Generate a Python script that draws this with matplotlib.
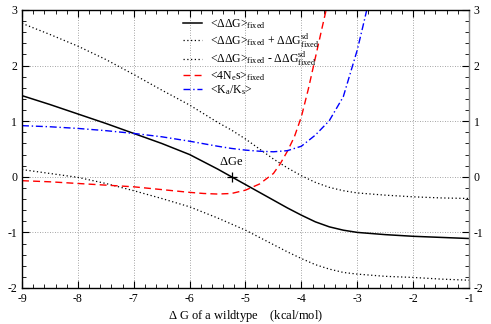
import numpy as np
import matplotlib
matplotlib.use("Agg")
import matplotlib.pyplot as plt
from matplotlib.ticker import MultipleLocator

plt.rcParams['font.family'] = ['Liberation Serif', 'DejaVu Serif']
plt.rcParams['mathtext.fontset'] = 'custom'
plt.rcParams['mathtext.rm'] = 'Liberation Serif'
plt.rcParams['mathtext.it'] = 'Liberation Serif:italic'
plt.rcParams['axes.unicode_minus'] = False

# <ddG>_fixed
x_mean = [-9, -8.5, -8, -7.5, -7, -6.5, -6, -5.5, -5.25, -5, -4.75, -4.5, -4.25, -4,
          -3.75, -3.5, -3.25, -3, -2.5, -2, -1.5, -1]
y_mean = [1.46, 1.30, 1.13, 0.96, 0.78, 0.60, 0.40, 0.14, 0.0, -0.14, -0.28, -0.42, -0.56, -0.69,
          -0.81, -0.90, -0.96, -1.0, -1.04, -1.07, -1.09, -1.11]

# <ddG>_fixed + sd
x_plus = [-9, -8.5, -8, -7.5, -7, -6.5, -6, -5.5, -5.25, -5, -4.75, -4.5, -4.25, -4,
          -3.75, -3.5, -3.25, -3, -2.5, -2, -1.5, -1]
y_plus = [2.76, 2.56, 2.35, 2.11, 1.84, 1.56, 1.29, 0.98, 0.84, 0.68, 0.50, 0.32, 0.16, 0.02,
          -0.10, -0.19, -0.25, -0.29, -0.33, -0.36, -0.38, -0.39]

# <ddG>_fixed - sd
x_minus = [-9, -8.5, -8, -7.5, -7, -6.5, -6, -5.5, -5, -4.75, -4.5, -4.25, -4,
           -3.75, -3.5, -3.25, -3, -2.5, -2, -1.5, -1]
y_minus = [0.13, 0.06, -0.01, -0.12, -0.25, -0.39, -0.54, -0.74, -0.96, -1.09, -1.22, -1.35, -1.47,
           -1.58, -1.66, -1.72, -1.75, -1.79, -1.81, -1.84, -1.86]

# <4Ne s>_fixed
x_ns = [-9, -8.5, -8, -7.5, -7, -6.5, -6, -5.75, -5.5, -5.25, -5, -4.75, -4.5, -4.375,
        -4.25, -4.125, -4.0, -3.875, -3.75, -3.625, -3.5]
y_ns = [-0.07, -0.09, -0.12, -0.15, -0.18, -0.23, -0.28, -0.30, -0.31, -0.30, -0.24, -0.13, 0.06, 0.24,
        0.46, 0.72, 1.08, 1.58, 2.14, 2.70, 3.25]

# <Ka/Ks>
x_kaks = [-9, -8.5, -8, -7.5, -7, -6.5, -6, -5.5, -5.25, -5, -4.75, -4.5, -4.25, -4,
          -3.75, -3.5, -3.25, -3.0, -2.9, -2.83, -2.75]
y_kaks = [0.92, 0.90, 0.87, 0.83, 0.78, 0.72, 0.64, 0.55, 0.51, 0.48, 0.46, 0.45, 0.47, 0.55,
          0.75, 1.01, 1.44, 2.28, 2.70, 3.0, 3.35]

dGe_x, dGe_y = -5.25, 0.0

fig = plt.figure(figsize=(4.91, 3.24), dpi=100)
ax = fig.add_axes([22/491, 1-288/324, (469-22)/491, (288-10)/324])

ax.plot(x_mean, y_mean, color='black', lw=1.1, label=r'<$\Delta\Delta$G>$_{\rm fixed}$')
ax.plot(x_plus, y_plus, color='black', lw=0.9, ls=(0, (1, 2)),
        label=r'<$\Delta\Delta$G>$_{\rm fixed}$ + $\Delta\Delta$G$_{\rm fixed}^{\rm sd}$')
ax.plot(x_minus, y_minus, color='black', lw=0.9, ls=(0, (1, 2)),
        label=r'<$\Delta\Delta$G>$_{\rm fixed}$ - $\Delta\Delta$G$_{\rm fixed}^{\rm sd}$')
ax.plot(x_ns, y_ns, color='red', lw=1.0, ls=(0, (5, 3)), label=r'<4N$_{\rm e}$s>$_{\rm fixed}$')
ax.plot(x_kaks, y_kaks, color='blue', lw=1.0, ls=(0, (5, 2, 1, 2)), label=r'<K$_{\rm a}$/K$_{\rm s}$>')

ax.plot([dGe_x], [dGe_y], marker='+', color='black', ms=7, mew=0.9)
ax.annotate(r'$\Delta$Ge', (dGe_x, dGe_y), xytext=(0, 6), textcoords='offset points',
            ha='center', va='bottom', fontsize=9)

ax.set_xlim(-9, -1)
ax.set_ylim(-2, 3)
ax.xaxis.set_major_locator(MultipleLocator(1))
ax.xaxis.set_minor_locator(MultipleLocator(0.2))
ax.yaxis.set_major_locator(MultipleLocator(1))
ax.yaxis.set_minor_locator(MultipleLocator(0.2))
ax.tick_params(which='both', direction='in', top=True, right=True, labelright=True, labelsize=8.5)
ax.tick_params(which='major', length=5)
ax.tick_params(which='minor', length=3)
ax.grid(True, which='major', ls=(0, (1, 2)), color='#888888', lw=0.6)
for s in ax.spines.values():
    s.set_linewidth(1.0)
ax.spines['right'].set_color('#888888')

ax.set_xlabel(r'$\Delta$ G of a wildtype    (kcal/mol)', fontsize=9, labelpad=2)

ax.legend(loc='upper left', bbox_to_anchor=((176-22)/447, 1.0), frameon=False, fontsize=8.5,
          handlelength=1.6, handletextpad=0.7, labelspacing=0.05, borderaxespad=0.2)

fig.savefig('out.png', dpi=100)
